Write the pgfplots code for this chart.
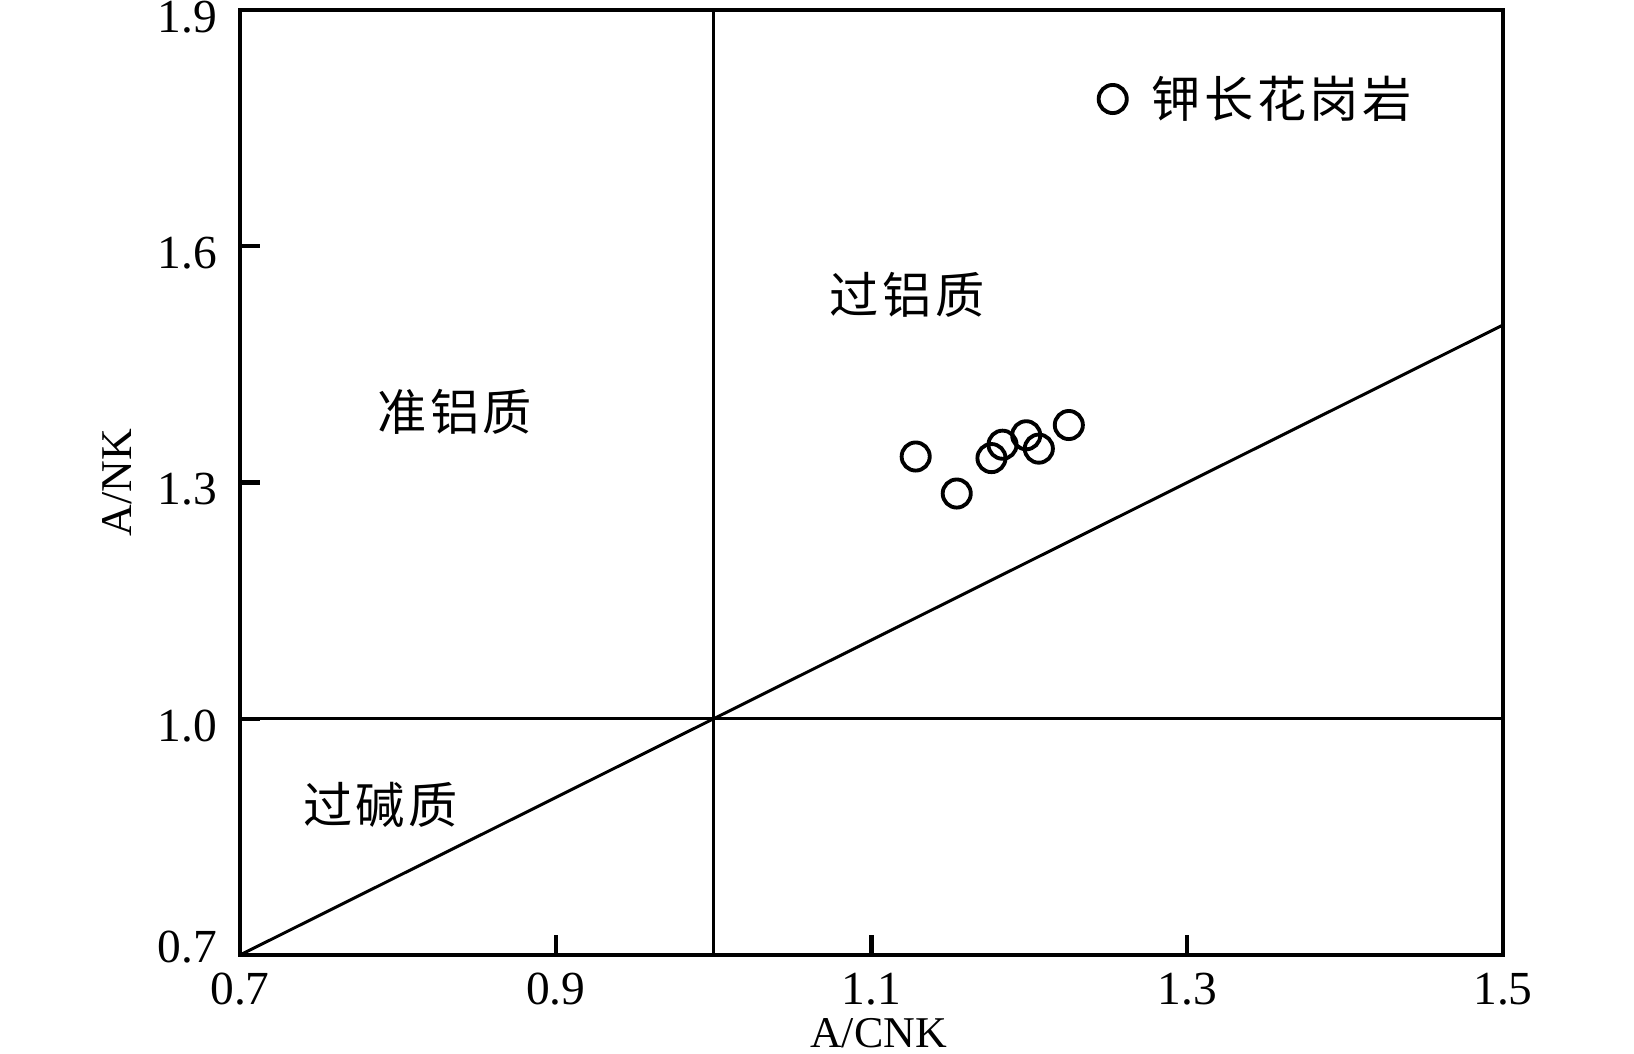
\documentclass[border=0pt]{standalone}
\usepackage{fontspec}
\setmainfont{Liberation Serif}
\newfontfamily\cjk[LetterSpace=7]{Noto Sans CJK SC}
\usepackage{pgfplots}
\pgfplotsset{compat=1.18}

\begin{document}
\begin{tikzpicture}[font=\fontsize{13.5pt}{16pt}\selectfont]
\begin{axis}[
    scale only axis,
    width=12.63cm, height=9.45cm,
    xmin=0.7, xmax=1.5, ymin=0.7, ymax=1.9,
    xtick={0.7,0.9,1.1,1.3,1.5},
    ytick={1.0,1.3,1.6,1.9},
    extra y ticks={0.7},
    extra y tick style={yticklabel style={yshift=0.15cm}},
    tick pos=left, tick align=inside,
    major tick length=0.2cm,
    axis line style={line width=1.15pt},
    every tick/.style={black, line width=1.15pt},
    /pgf/number format/assume math mode=true,
    /pgf/number format/fixed,
    /pgf/number format/fixed zerofill,
    /pgf/number format/precision=1,
    xticklabel style={inner sep=0pt, yshift=-0.17cm},
    yticklabel style={inner sep=0pt, xshift=-0.22cm, yshift=-0.07cm},
    xlabel={A/CNK}, ylabel={A/NK},
    xlabel style={at={(axis description cs:0.5,-0.066)}, anchor=north, inner sep=0pt,
        xshift=0.07cm, font=\fontsize{12.5pt}{14pt}\selectfont},
    ylabel style={at={(axis description cs:-0.085,0.5)}, anchor=south, inner sep=0pt,
        font=\fontsize{12.5pt}{14pt}\selectfont},
    clip=false,
    legend style={draw=none, fill=none, inner sep=0pt,
        at={(axis description cs:0.6904,0.9058)}, anchor=west, xshift=-0.14cm,
        font=\cjk\fontsize{14pt}{16pt}\selectfont},
]
% field boundaries
\addplot[black, line width=0.85pt, forget plot] coordinates {(1.0,0.7) (1.0,1.9)};
\addplot[black, line width=0.85pt, forget plot] coordinates {(0.7,1.0) (1.5,1.0)};
\addplot[black, line width=0.85pt, forget plot] coordinates {(0.7,0.7) (1.5,1.5)};

% samples
\addplot[only marks, black, mark=o, mark size=4pt, mark options={line width=1.1pt}] coordinates {
    (1.128,1.333) (1.154,1.286) (1.176,1.331) (1.183,1.348)
    (1.198,1.360) (1.206,1.343) (1.225,1.373)
};
\addlegendentry{\hspace{0.18cm}钾长花岗岩}

\node[font=\cjk\fontsize{14pt}{16pt}\selectfont] at (axis cs:0.836,1.39) {准铝质};
\node[font=\cjk\fontsize{14pt}{16pt}\selectfont] at (axis cs:1.1225,1.538) {过铝质};
\node[font=\cjk\fontsize{14pt}{16pt}\selectfont] at (axis cs:0.789,0.891) {过碱质};

% page size as in the reference
\path (rel axis cs:0,0) ++(-2.40cm,-0.98cm) rectangle ++(16.34cm,10.53cm);
\end{axis}
\end{tikzpicture}
\end{document}
